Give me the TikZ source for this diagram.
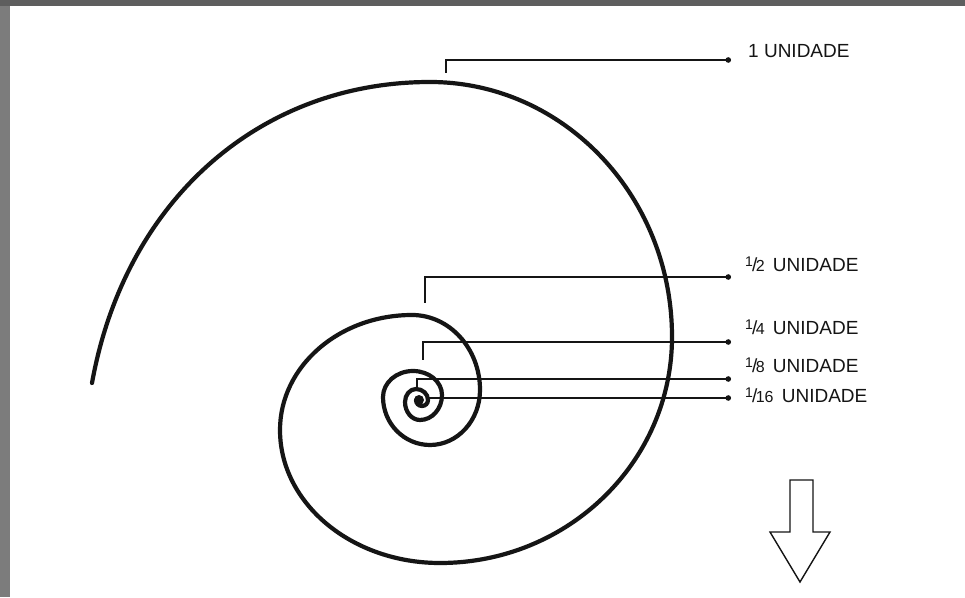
\documentclass[tikz,border=0pt]{standalone}
\usepackage{fontspec}
\setmainfont{Liberation Sans}
\usetikzlibrary{arrows.meta}
\definecolor{ink}{HTML}{151515}
\definecolor{frameL}{HTML}{7C7C7C}
\definecolor{frameT}{HTML}{5E5E5E}
\newcommand\frc[2]{\raisebox{0.55ex}{\fontsize{14}{14}\selectfont#1}\kern-1pt/\kern-1.5pt{\fontsize{16}{16}\selectfont#2}}

\begin{document}
\begin{tikzpicture}[x=1pt,y=1pt,font=\fontsize{19}{19}\selectfont,
    leader/.style={draw=ink,line width=1.5pt,-{Circle[length=5.5pt]}},
    tag/.style={anchor=base west,inner sep=0pt,text=ink}]
  \useasboundingbox (0,0) rectangle (965,597);
  \fill[white] (0,0) rectangle (965,597);
  \fill[frameL] (0,0) rectangle (10,597);
  \fill[frameT] (0,591) rectangle (965,597);
  % spiral, one quarter turn per arc
  \draw[ink,line width=4.2pt,line cap=round]
    (92,214) .. controls (125,397) and (260,515) .. (430,515)
    arc[start angle=90,end angle=0,x radius=242,y radius=255]
    arc[start angle=0,end angle=-90,x radius=232,y radius=226]
    arc[start angle=270,end angle=180,x radius=160,y radius=133]
    arc[start angle=180,end angle=90,x radius=132,y radius=115]
    arc[start angle=90,end angle=0,x radius=68,y radius=75]
    arc[start angle=0,end angle=-90,x radius=50,y radius=55]
    arc[start angle=270,end angle=180,x radius=47,y radius=48]
    arc[start angle=180,end angle=90,x radius=30,y radius=26]
    arc[start angle=90,end angle=0,x radius=29,y radius=24]
    arc[start angle=0,end angle=-90,x radius=22,y radius=25]
    arc[start angle=270,end angle=180,x radius=15,y radius=18]
    arc[start angle=180,end angle=90,x radius=11,y radius=13]
    arc[start angle=90,end angle=0,x radius=12,y radius=11]
    arc[start angle=0,end angle=-180,x radius=6,y radius=6];
  \fill[ink] (419,197) circle (5);
  % leaders and labels
  \foreach \n/\sx/\sy/\ey/\lx/\ly/\lbl in {%
      a/446/524/537/748/539/{1 UNIDADE},
      b/425/294/320/745/325/{\frc12\hspace{3pt} UNIDADE},
      c/423/237/255/745/262/{\frc14\hspace{3pt} UNIDADE},
      d/417/209/218/745/224/{\frc18\hspace{3pt} UNIDADE},
      e/427/194/199/745/194/{\frc1{16}\hspace{3pt} UNIDADE}}{
    \coordinate (top-\n) at (\sx,\sy);
    \coordinate (end-\n) at (731,\ey);
    \draw[leader] (top-\n) |- (end-\n);
    \node[tag] (lbl-\n) at (\lx,\ly) {\lbl};}
  % hollow arrow
  \draw[ink,line width=1.4pt,line join=miter]
    (790,117) -- (813,117) -- (813,65) -- (830,65) -- (800,15)
    -- (770,65) -- (790,65) -- cycle;
\end{tikzpicture}
\end{document}
